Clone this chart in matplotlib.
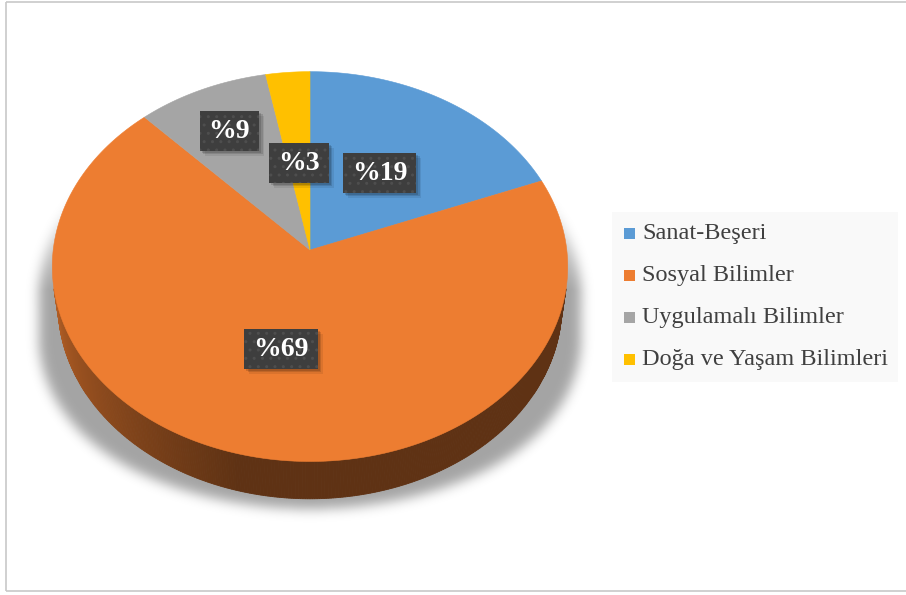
import numpy as np
import matplotlib
matplotlib.use("Agg")
import matplotlib.pyplot as plt
from matplotlib.patches import Polygon, Rectangle
from matplotlib.path import Path
from matplotlib.colors import to_rgb

# ---- data ----
categories = ["Sanat-Beşeri", "Sosyal Bilimler", "Uygulamalı Bilimler", "Doğa ve Yaşam Bilimleri"]
values = [19, 69, 9, 3]
labels = ["%19", "%69", "%9", "%3"]
colors = ["#5B9BD5", "#ED7D31", "#A5A5A5", "#FFC000"]

# ---- styling ----
label_radius = [0.5, 0.5, 0.73, 0.47]
W, H = 906, 595
CX, CY = 310.0, 250.0          # screen position of the pie centre
ELEV = np.radians(48.9)        # camera elevation
Z0 = 7.73                      # camera distance (in pie radii)
SCALE = 1985.0
THICK = 0.236                  # pie thickness (in pie radii)
se, ce = np.sin(ELEV), np.cos(ELEV)


def project(phi_deg, r=1.0, h=0.0):
    """Project a point on the pie (angle clockwise from 12 o'clock) to pixels."""
    phi = np.radians(phi_deg)
    u = r * np.sin(phi)
    v = r * np.cos(phi)
    z = Z0 + v * ce - h * se
    x = CX + SCALE * u / z
    y = CY - SCALE * (v * se + h * ce) / z
    return x, y


fig = plt.figure(figsize=(W / 100, H / 100), dpi=100)
ax = fig.add_axes([0, 0, 1, 1])
ax.set_xlim(0, W)
ax.set_ylim(H, 0)
ax.axis("off")

# slice angle ranges
total = float(sum(values))
bounds = np.concatenate([[0.0], np.cumsum(values) / total * 360.0])

# visible part of the side wall
phi_min = np.degrees(np.arccos(-1.0 / (Z0 * ce)))
phi_max = 360.0 - phi_min

# ---- soft perspective shadow ----
back = np.linspace(phi_max, phi_min + 360.0, 400) % 360.0
front = np.linspace(phi_min, phi_max, 400)
bx, by = project(back)
fx, fy = project(front, h=-THICK)
sil_x = np.concatenate([bx, fx])
sil_y = np.concatenate([by, fy])
spread = 1.0 + 0.11 * np.clip((sil_y - 190.0) / 180.0, 0, 1.5)
sh_x = CX + (sil_x - CX) * spread
sh_y = sil_y + 10
gx, gy = np.meshgrid(np.arange(W) + 0.5, np.arange(H) + 0.5)
mask = Path(np.column_stack([sh_x, sh_y])).contains_points(
    np.column_stack([gx.ravel(), gy.ravel()])).reshape(H, W).astype(float)
sig = 6.0
k = np.arange(-3 * int(sig), 3 * int(sig) + 1)
kern = np.exp(-0.5 * (k / sig) ** 2)
kern /= kern.sum()
blur = np.apply_along_axis(lambda m: np.convolve(m, kern, mode="same"), 1, mask)
blur = np.apply_along_axis(lambda m: np.convolve(m, kern, mode="same"), 0, blur)
ramp = np.clip((gy - 180.0) / 110.0, 0, 1)
rgba = np.zeros((H, W, 4))
rgba[..., 3] = blur * ramp * 0.36
ax.imshow(rgba, extent=(0, W, H, 0), zorder=1, interpolation="bilinear")


def side_shade(phi):
    # lighter on the left, dark towards the front and right
    if phi >= 195:
        return 0.40 + (phi - 195) / (259 - 195) * 0.34
    return 0.40


def slice_color(phi):
    idx = np.searchsorted(bounds, phi, side="right") - 1
    return to_rgb(colors[min(idx, len(colors) - 1)])


# ---- side wall ----
n_seg = 320
edges = np.linspace(phi_min, phi_max, n_seg + 1)
for a0, a1 in zip(edges[:-1], edges[1:]):
    am = 0.5 * (a0 + a1)
    base = np.array(slice_color(am))
    col = np.clip(base * side_shade(am), 0, 1)
    t0 = project(a0)
    t1 = project(a1)
    b0 = project(a0, h=-THICK)
    b1 = project(a1, h=-THICK)
    ax.add_patch(Polygon([t0, t1, b1, b0], closed=True, fc=col, ec=col,
                         lw=0.6, zorder=2))

# ---- top face ----
for i, col in enumerate(colors):
    arc = np.linspace(bounds[i], bounds[i + 1], 200)
    xs, ys = project(arc)
    pts = [(CX, CY)] + list(zip(xs, ys))
    ax.add_patch(Polygon(pts, closed=True, fc=col, ec=col, lw=0.4, zorder=3))

# ---- data labels ----
renderer = fig.canvas.get_renderer()
for i, lab in enumerate(labels):
    mid = 0.5 * (bounds[i] + bounds[i + 1])
    lx, ly = project(mid, r=label_radius[i])
    t = ax.text(lx, ly + 1, lab, ha="center", va="center", color="white",
                fontsize=20, fontweight="bold", family="Liberation Serif",
                zorder=7)
    ext = t.get_window_extent(renderer)
    bw = ext.width + 18
    bh = 40
    for d, a in ((5, 0.08), (3.5, 0.12), (2, 0.14)):
        ax.add_patch(Rectangle((lx - bw / 2 + d, ly - bh / 2 + d), bw, bh,
                               fc="black", ec="none", alpha=a, zorder=5))
    ax.add_patch(Rectangle((lx - bw / 2, ly - bh / 2), bw, bh,
                           fc="#3E3E3E", ec="#4E4E4E", lw=0, hatch="..",
                           zorder=6))

# ---- legend ----
ax.add_patch(Rectangle((612, 212), 286, 170, fc="#F9F9F9", ec="none", zorder=1))
leg_y0, leg_dy = 233.5, 42.0
for i, (cat, col) in enumerate(zip(categories, colors)):
    yy = leg_y0 + i * leg_dy
    ax.add_patch(Rectangle((624, yy - 5.5), 11, 11, fc=col, ec="none", zorder=4))
    ax.text(642, yy, cat, ha="left", va="center", color="#404040",
            fontsize=17.5, family="Liberation Serif", zorder=4)

# ---- chart area border ----
bc = "#C8C8C8"
ax.plot([6, W], [1.5, 1.5], color=bc, lw=1.2, zorder=8, solid_capstyle="butt")
ax.plot([6, 6], [1.5, 591], color=bc, lw=1.2, zorder=8, solid_capstyle="butt")
ax.plot([6, W], [591, 591], color=bc, lw=1.2, zorder=8, solid_capstyle="butt")

fig.savefig("out.png", dpi=100)
